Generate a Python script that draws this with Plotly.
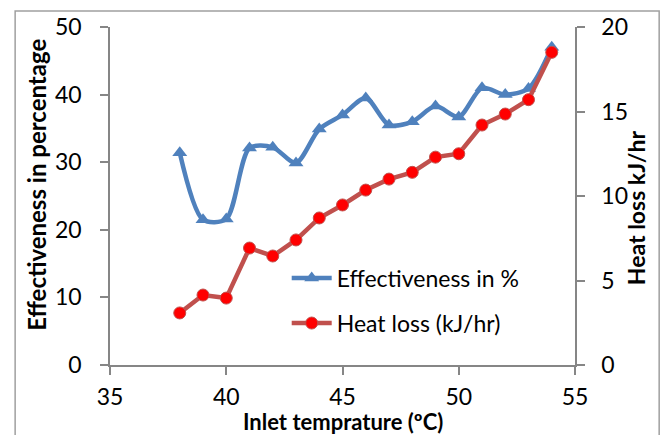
import plotly.graph_objects as go

inlet_temp = [38, 39, 40, 41, 42, 43, 44, 45, 46, 47, 48, 49, 50, 51, 52, 53, 54]
effectiveness = [31.4, 21.5, 21.6, 32.1, 32.2, 29.9, 34.9, 37.0, 39.5, 35.5, 36.0, 38.3, 36.7, 41.0, 40.0, 40.9, 47.0]
heat_loss = [3.08, 4.14, 3.96, 6.92, 6.45, 7.4, 8.7, 9.47, 10.35, 11.0, 11.4, 12.3, 12.5, 14.2, 14.85, 15.7, 18.5]

x_title = "<b>Inlet temprature (ºC)</b>"
y_title = "<b>Effectiveness in percentage</b>"
y2_title = "<b>Heat loss kJ/hr</b>"

FONT = "Lato"
AX = "#868686"
FS = 23

fig = go.Figure()
fig.add_trace(go.Scatter(
    x=inlet_temp, y=effectiveness, name="Effectiveness in %",
    mode="lines+markers", legend="legend",
    line=dict(color="#4F81BD", width=4.5, shape="spline", smoothing=0.8),
    marker=dict(symbol="triangle-up", size=13, color="#4F81BD", line=dict(width=0)),
))
fig.add_trace(go.Scatter(
    x=inlet_temp, y=heat_loss, name="Heat loss (kJ/hr)", yaxis="y2",
    mode="lines+markers", legend="legend2",
    line=dict(color="#C0504D", width=4.5),
    marker=dict(symbol="circle", size=12, color="#FF0000", line=dict(color="#C0504D", width=1)),
))

leg_common = dict(xanchor="left", yanchor="middle", bgcolor="rgba(0,0,0,0)",
                  font=dict(size=FS, family=FONT), itemwidth=40)

axis_common = dict(showgrid=False, zeroline=False, showline=True, linecolor=AX,
                   linewidth=1.5, ticks="outside", ticklen=8, tickcolor=AX,
                   tickwidth=1.5, tickfont=dict(size=FS), automargin=False)

fig.update_layout(
    width=661, height=435,
    margin=dict(l=110, r=86, t=27, b=70),
    paper_bgcolor="white", plot_bgcolor="white",
    font=dict(family=FONT, size=FS, color="black"),
    showlegend=True,
    legend=dict(x=0.38, y=0.257, **leg_common),
    legend2=dict(x=0.38, y=0.124, **leg_common),
    xaxis=dict(range=[35, 55], dtick=5, tick0=35, ticklabelstandoff=3, **axis_common),
    yaxis=dict(range=[0, 50], dtick=10, ticklabelstandoff=14, **axis_common),
    yaxis2=dict(range=[0, 20], dtick=5, overlaying="y", side="right",
                ticklabelstandoff=12, **axis_common),
    annotations=[
        dict(text=x_title, xref="paper", yref="paper", x=0.5, y=(365 - 421) / 338,
             xanchor="center", yanchor="middle", showarrow=False, font=dict(size=22)),
        dict(text=y_title, xref="paper", yref="paper", x=(37 - 110) / 465, y=0.533,
             xanchor="center", yanchor="middle", textangle=-90, showarrow=False,
             font=dict(size=FS + 1)),
        dict(text=y2_title, xref="paper", yref="paper", x=(636 - 110) / 465, y=0.464,
             xanchor="center", yanchor="middle", textangle=-90, showarrow=False,
             font=dict(size=FS)),
    ],
    shapes=[dict(type="rect", xref="paper", yref="paper",
                 x0=-0.204, x1=1.181, y0=-0.25, y1=1.047,
                 line=dict(color="#A0A0A0", width=1.5), layer="below")],
)

fig.write_html("out.html")
